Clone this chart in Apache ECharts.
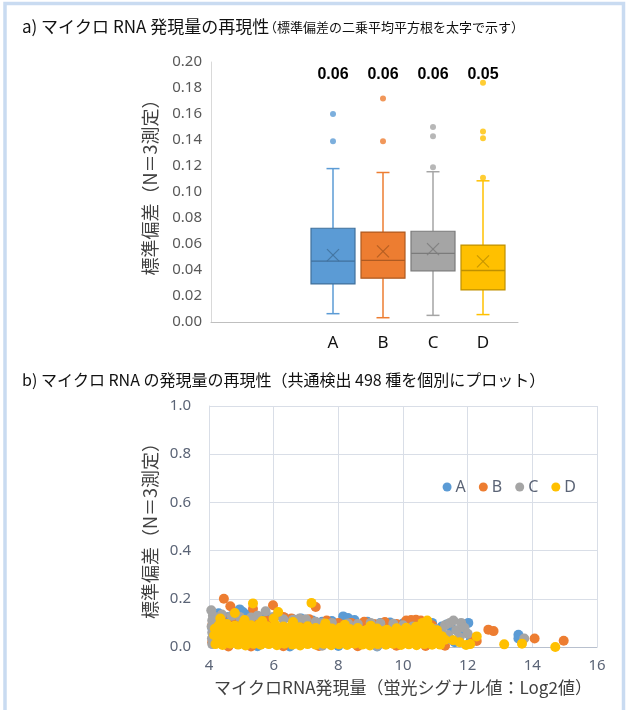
<!DOCTYPE html>
<html><head><meta charset="utf-8">
<script src="https://cdn.jsdelivr.net/npm/echarts@6/dist/echarts.min.js"></script>
<style>html,body{margin:0;padding:0;background:#fff}#c{width:627px;height:710px}</style>
</head><body><div id="c"></div>
<script>
// ---------- Panel a: box plot data ----------
var boxCategories = ['A', 'B', 'C', 'D'];
// [min, Q1, median, Q3, max]
var boxA = [0.0064, 0.0293, 0.0468, 0.0721, 0.118];
var boxB = [0.0033, 0.0337, 0.0474, 0.0692, 0.115];
var boxC = [0.0051, 0.0394, 0.0528, 0.0698, 0.1156];
var boxD = [0.0057, 0.0247, 0.0396, 0.0592, 0.1086];
var boxMeans = [0.0515, 0.0543, 0.0561, 0.0466];
var outA = [0.160, 0.139];
var outB = [0.172, 0.139];
var outC = [0.150, 0.1429, 0.119];
var outD = [0.184, 0.1465, 0.1413, 0.1109];
var rmsLabels = ['0.06', '0.06', '0.06', '0.05'];

// ---------- Panel b: scatter data [log2 signal, SD] ----------
var scatA = [[4.1,0.08],[4.15,0.05],[4.2,0.02],[4.3,0.14],[4.6,0.125],[4.95,0.156],[5.05,0.145],[5.25,0.135],[5.5,0.128],[5.7,0.13],[5.9,0.122],[6.1,0.13],[6.35,0.12],[6.6,0.115],[6.85,0.118],[7.2,0.11],[7.5,0.105],[7.8,0.108],[8.15,0.127],[8.3,0.12],[8.5,0.112],[8.9,0.105],[9.3,0.1],[9.6,0.102],[10.0,0.098],[10.4,0.09],[10.9,0.1],[11.2,0.085],[11.35,0.093],[11.5,0.078],[11.7,0.065],[11.9,0.07],[12.02,0.1],[12.1,0.03],[11.6,0.02],[13.57,0.051],[13.57,0.035],[9.2,0.002],[6.5,0.002],[5.5,0.003],[8.0,0.004],[7.0,0.03],[9.0,0.05],[10.0,0.02],[5.0,0.06],[6.0,0.04],[8.6,0.07],[10.6,0.05]];
var scatB = [[4.46,0.2],[4.66,0.169],[5.36,0.159],[5.98,0.173],[7.3,0.166],[4.1,0.09],[4.2,0.11],[4.4,0.13],[4.75,0.122],[5.0,0.115],[5.5,0.12],[5.8,0.11],[6.3,0.125],[6.55,0.118],[6.9,0.112],[7.1,0.115],[7.64,0.11],[8.0,0.1],[8.4,0.1],[8.8,0.105],[9.1,0.095],[9.44,0.104],[9.8,0.095],[10.1,0.11],[10.25,0.112],[10.4,0.113],[10.55,0.11],[10.9,0.09],[11.2,0.06],[11.4,0.04],[12.2,0.035],[12.28,0.025],[12.64,0.072],[12.8,0.066],[14.07,0.035],[14.97,0.026],[4.1,0.02],[4.6,0.002],[5.3,0.002],[6.3,0.003],[7.4,0.004],[8.6,0.003],[9.8,0.005],[10.7,0.004],[11.3,0.005],[6.0,0.05],[8.0,0.06],[10.0,0.04]];
var scatC = [[4.07,0.152],[4.12,0.13],[4.1,0.11],[4.08,0.085],[4.1,0.06],[4.09,0.035],[4.1,0.012],[4.4,0.135],[4.7,0.13],[4.95,0.125],[5.3,0.122],[5.5,0.13],[5.75,0.148],[6.0,0.125],[6.3,0.115],[6.6,0.113],[6.8,0.118],[7.0,0.115],[7.3,0.105],[7.5,0.1],[7.8,0.1],[8.3,0.098],[8.6,0.095],[9.0,0.1],[9.3,0.098],[9.7,0.096],[10.0,0.09],[10.3,0.085],[10.7,0.082],[11.0,0.075],[11.2,0.06],[11.3,0.09],[11.45,0.1],[11.56,0.11],[11.65,0.07],[11.8,0.1],[11.9,0.08],[12.0,0.055],[11.75,0.04],[11.4,0.05],[11.5,0.03],[13.75,0.035],[9.2,0.004],[7.5,0.005],[6.0,0.02],[8.0,0.04],[5.0,0.05],[10.5,0.03]];
var scatD = [
 [4.2,0.012],[4.42,0.008],[4.66,0.014],[4.9,0.01],[5.13,0.006],[5.38,0.013],[5.6,0.009],[5.85,0.012],[6.1,0.007],[6.33,0.014],[6.58,0.01],[6.82,0.006],[7.05,0.012],[7.3,0.009],[7.55,0.013],[7.78,0.007],[8.02,0.011],[8.27,0.008],[8.5,0.014],[8.74,0.01],[8.98,0.006],[9.22,0.012],[9.47,0.009],[9.7,0.013],[9.94,0.008],[10.18,0.011],[10.42,0.007],[10.66,0.012],[10.9,0.009],[11.15,0.01],
 [4.33,0.023],[4.57,0.02],[4.81,0.025],[5.06,0.021],[5.3,0.024],[5.54,0.019],[5.79,0.023],[6.02,0.02],[6.27,0.025],[6.5,0.021],[6.75,0.024],[6.99,0.019],[7.23,0.023],[7.47,0.02],[7.71,0.025],[7.95,0.021],[8.19,0.023],[8.43,0.019],[8.67,0.024],[8.91,0.02],[9.15,0.023],[9.39,0.021],[9.63,0.024],[9.87,0.019],[10.11,0.023],[10.35,0.02],[10.59,0.024],[10.83,0.021],[11.08,0.018],
 [4.28,0.036],[4.52,0.031],[4.77,0.038],[5.01,0.033],[5.25,0.04],[5.5,0.034],[5.73,0.029],[5.97,0.037],[6.22,0.032],[6.46,0.039],[6.7,0.034],[6.94,0.03],[7.18,0.036],[7.42,0.031],[7.66,0.038],[7.9,0.033],[8.14,0.029],[8.38,0.035],[8.62,0.031],[8.86,0.037],[9.1,0.032],[9.34,0.028],[9.58,0.035],[9.82,0.03],[10.06,0.036],[10.3,0.031],[10.54,0.038],[10.78,0.033],[11.02,0.028],[11.3,0.03],
 [4.16,0.049],[4.4,0.046],[4.64,0.051],[4.88,0.047],[5.12,0.05],[5.36,0.045],[5.6,0.049],[5.84,0.046],[6.08,0.051],[6.32,0.045],[6.56,0.048],[6.8,0.044],[7.04,0.049],[7.28,0.045],[7.52,0.047],[7.76,0.043],[8.0,0.047],[8.24,0.044],[8.48,0.046],[8.72,0.042],[8.96,0.046],[9.2,0.043],[9.44,0.045],[9.68,0.042],[9.92,0.046],[10.16,0.044],[10.4,0.048],[10.64,0.045],[10.88,0.042],
 [4.22,0.062],[4.46,0.058],[4.7,0.065],[4.94,0.06],[5.18,0.066],[5.42,0.057],[5.66,0.063],[5.9,0.059],[6.14,0.064],[6.38,0.056],[6.62,0.061],[6.86,0.057],[7.1,0.063],[7.34,0.055],[7.58,0.06],[7.82,0.056],[8.06,0.058],[8.3,0.054],[8.54,0.059],[8.78,0.053],[9.02,0.057],[9.26,0.052],[9.5,0.058],[9.74,0.054],[9.98,0.06],[10.22,0.055],[10.46,0.062],[10.7,0.057],[10.94,0.05],
 [4.18,0.076],[4.42,0.074],[4.67,0.079],[4.92,0.075],[5.16,0.08],[5.41,0.074],[5.66,0.077],[5.9,0.072],[6.17,0.076],[6.42,0.071],[6.67,0.074],[6.93,0.069],[7.18,0.072],[7.43,0.067],[7.68,0.07],[7.93,0.066],[8.2,0.068],[8.47,0.064],[8.75,0.066],[9.05,0.063],[9.35,0.065],[9.65,0.062],[9.95,0.067],[10.25,0.068],[10.52,0.072],[10.8,0.07],
 [4.3,0.09],[4.55,0.095],[4.8,0.088],[5.05,0.097],[5.3,0.09],[5.55,0.094],[5.8,0.086],[6.05,0.092],[6.3,0.085],[6.55,0.089],[6.8,0.082],[7.05,0.086],[7.3,0.079],[7.55,0.083],[7.8,0.077],[8.05,0.08],[8.35,0.075],[8.6,0.079],[8.9,0.073],[9.2,0.077],[9.5,0.072],[9.8,0.078],[10.1,0.08],[10.4,0.084],[10.65,0.09],[10.85,0.082],
 [4.35,0.118],[4.8,0.141],[5.1,0.112],[5.36,0.181],[5.65,0.108],[6.0,0.118],[6.14,0.145],[6.6,0.104],[7.17,0.183],[7.6,0.098],[8.2,0.092],[9.0,0.088],[10.6,0.1],[10.75,0.11],[11.05,0.07],[11.2,0.045],[11.55,0.028],[11.75,0.02],[11.95,0.008],[12.08,0.012],[12.28,0.044],[13.13,0.011],[13.68,0.014],[14.71,0.0]
];
var seriesNames = ['A', 'B', 'C', 'D'];

var colors = ['#5B9BD5', '#ED7D31', '#A5A5A5', '#FFC000'];
var darkColors = ['#41719C', '#AE5A21', '#7B7B7B', '#BF9000'];
var boxes = [boxA, boxB, boxC, boxD];
var outs = [outA, outB, outC, outD];
var scats = [scatA, scatB, scatC, scatD];

var chart = echarts.init(document.getElementById('c'), null, {renderer: 'canvas'});
var latin = '"Noto Sans", "Noto Sans CJK JP", sans-serif';
var cjk = '"Noto Sans CJK JP", sans-serif';

var series = [];
boxes.forEach(function (b, i) {
  series.push({
    type: 'custom', name: 'box' + seriesNames[i], xAxisIndex: 1, yAxisIndex: 1,
    data: [[i, b[0], b[1], b[2], b[3], b[4], boxMeans[i]]],
    renderItem: function (params, api) {
      var ci = api.value(0);
      var xc = api.coord([ci, 0])[0];
      var bw = api.size([1, 0])[0] * 0.88;
      var yMin = api.coord([ci, api.value(1)])[1];
      var yQ1 = api.coord([ci, api.value(2)])[1];
      var yMed = api.coord([ci, api.value(3)])[1];
      var yQ3 = api.coord([ci, api.value(4)])[1];
      var yMax = api.coord([ci, api.value(5)])[1];
      var yMean = api.coord([ci, api.value(6)])[1];
      var yTop = api.coord([ci, 0.2])[1];
      var cap = 6.5, xs = 6;
      var lineStyle = {stroke: colors[i], lineWidth: 1.5};
      return {type: 'group', children: [
        {type: 'line', shape: {x1: xc, y1: yQ3, x2: xc, y2: yMax}, style: lineStyle},
        {type: 'line', shape: {x1: xc - cap, y1: yMax, x2: xc + cap, y2: yMax}, style: lineStyle},
        {type: 'line', shape: {x1: xc, y1: yQ1, x2: xc, y2: yMin}, style: lineStyle},
        {type: 'line', shape: {x1: xc - cap, y1: yMin, x2: xc + cap, y2: yMin}, style: lineStyle},
        {type: 'rect', shape: {x: xc - bw / 2, y: yQ3, width: bw, height: yQ1 - yQ3},
          style: {fill: colors[i], stroke: darkColors[i], lineWidth: 1.2}},
        {type: 'line', shape: {x1: xc - bw / 2, y1: yMed, x2: xc + bw / 2, y2: yMed},
          style: {stroke: darkColors[i], lineWidth: 1.3}},
        {type: 'line', shape: {x1: xc - xs, y1: yMean - xs, x2: xc + xs, y2: yMean + xs},
          style: {stroke: darkColors[i], lineWidth: 1.2, opacity: 0.85}},
        {type: 'line', shape: {x1: xc - xs, y1: yMean + xs, x2: xc + xs, y2: yMean - xs},
          style: {stroke: darkColors[i], lineWidth: 1.2, opacity: 0.85}},
        {type: 'text', x: xc, y: yTop + 13, style: {text: rmsLabels[ci], fontSize: 16, fontWeight: 'bold',
          fontFamily: '"Liberation Sans", Arial, sans-serif', fill: '#000', align: 'center', verticalAlign: 'middle'}}
      ]};
    },
    z: 2
  });
  series.push({
    type: 'scatter', name: 'out' + seriesNames[i], xAxisIndex: 1, yAxisIndex: 1,
    data: outs[i].map(function (v) { return [i, v]; }),
    symbolSize: 6, itemStyle: {color: colors[i]}, z: 3
  });
});
scats.forEach(function (d, i) {
  series.push({
    type: 'scatter', name: seriesNames[i], xAxisIndex: 2, yAxisIndex: 2,
    data: d, symbolSize: 10, itemStyle: {color: colors[i], opacity: 1}
  });
});

var option = {
  backgroundColor: '#fff',
  animation: false,
  color: colors,
  graphic: [
    {type: 'rect', shape: {x: 5, y: 3.5, width: 618.5, height: 730}, style: {fill: 'none', stroke: '#C9DBF1', lineWidth: 3.5}, silent: true},
    {type: 'text', left: 22, top: 18, style: {text: 'a) マイクロ RNA 発現量の再現性', fontSize: 17, fontFamily: cjk, fill: '#111'}},
    {type: 'text', left: 264, top: 21, style: {text: '（標準偏差の二乗平均平方根を太字で示す）', fontSize: 13, fontFamily: cjk, fill: '#111'}},
    {type: 'text', left: 22, top: 372, style: {text: 'b) マイクロ RNA の発現量の再現性（共通検出 498 種を個別にプロット）', fontSize: 16, fontFamily: cjk, fill: '#111'}}
  ],
  legend: {
    data: seriesNames, right: 46, top: 474, icon: 'circle', itemWidth: 9, itemHeight: 9, itemGap: 13,
    textStyle: {fontSize: 16, color: '#5B6476', fontFamily: latin, padding: [0, 0, 0, -1]}
  },
  grid: [
    {left: 211, right: 109, top: 62, bottom: 388},
    {left: 308, right: 119, top: 62, bottom: 388},
    {left: 209, right: 30, top: 406, bottom: 63}
  ],
  xAxis: [
    {gridIndex: 0, type: 'category', data: [''], axisLine: {lineStyle: {color: '#BFBFBF'}}, axisTick: {show: false}, axisLabel: {show: false}},
    {gridIndex: 1, type: 'category', data: boxCategories, axisLine: {show: false}, axisTick: {show: false},
      axisLabel: {fontSize: 17, color: '#111', margin: 13, fontFamily: latin}},
    {gridIndex: 2, type: 'value', min: 4, max: 16, interval: 2,
      axisLine: {lineStyle: {color: '#B8C0CE'}}, axisTick: {show: false},
      splitLine: {lineStyle: {color: '#D9DEE7'}},
      axisLabel: {fontSize: 15, color: '#5B6476', margin: 11, fontFamily: latin},
      name: 'マイクロRNA発現量（蛍光シグナル値：Log2値）', nameLocation: 'middle', nameGap: 32,
      nameTextStyle: {fontSize: 17, color: '#404040', fontFamily: cjk}}
  ],
  yAxis: [
    {gridIndex: 0, type: 'value', min: 0, max: 0.2, interval: 0.02,
      axisLine: {show: true, lineStyle: {color: '#D9D9D9'}}, axisTick: {show: false}, splitLine: {show: false},
      axisLabel: {fontSize: 15, color: '#595959', margin: 9, fontFamily: latin, formatter: function (v) { return v.toFixed(2); }},
      name: '標準偏差（N＝3測定）', nameLocation: 'middle', nameGap: 52,
      nameTextStyle: {fontSize: 18, color: '#404040', fontFamily: cjk, padding: [0, 0, 0, 18]}},
    {gridIndex: 1, type: 'value', min: 0, max: 0.2, show: false},
    {gridIndex: 2, type: 'value', min: 0, max: 1, interval: 0.2,
      axisLine: {show: true, lineStyle: {color: '#D9DEE7'}}, axisTick: {show: false},
      splitLine: {lineStyle: {color: '#D9DEE7'}},
      axisLabel: {fontSize: 15, color: '#5B6476', margin: 18, fontFamily: latin, formatter: function (v) { return v.toFixed(1); }},
      name: '標準偏差（N＝3測定）', nameLocation: 'middle', nameGap: 47,
      nameTextStyle: {fontSize: 18, color: '#404040', fontFamily: cjk}}
  ],
  series: series
};
chart.setOption(option);
</script></body></html>
